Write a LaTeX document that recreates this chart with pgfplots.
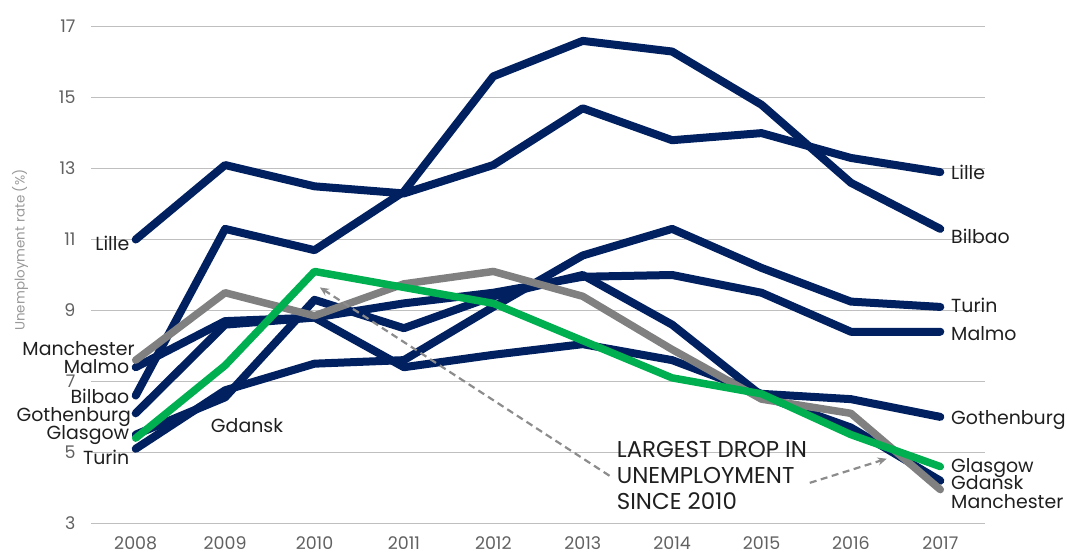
\documentclass[border=0pt]{standalone}
\usepackage{fontspec}
\setmainfont{Poppins}
\usepackage{pgfplots}
\pgfplotsset{compat=1.18}
\usetikzlibrary{arrows.meta}
\definecolor{navy}{HTML}{002060}
\definecolor{grn}{HTML}{00B050}
\definecolor{gry}{HTML}{808080}
\definecolor{arr}{HTML}{8C8C8C}

\pgfplotstableread{
year Lille Bilbao Turin Malmo Gothenburg Gdansk Manchester Glasgow
2008 11.0 6.6  5.1  7.4  6.1  5.5  7.6  5.4
2009 13.1 11.3 6.75 8.7  8.6  6.55 9.5  7.45
2010 12.5 10.7 7.5  8.8  8.8  9.3  8.85 10.1
2011 12.3 12.35 7.6 9.2  7.4  8.5  9.75 9.65
2012 13.1 15.6 9.1  9.5  7.75 9.4  10.1 9.2
2013 14.7 16.6 10.55 9.95 8.05 10.0 9.4 8.15
2014 13.8 16.3 11.3 10.0 7.6  8.6  7.9  7.1
2015 14.0 14.8 10.2 9.5  6.65 6.6  6.5  6.65
2016 13.3 12.6 9.25 8.4  6.5  5.7  6.1  5.5
2017 12.9 11.3 9.1  8.4  6.0  4.2  3.95 4.6
}\datatable

\begin{document}
\begin{tikzpicture}
\useasboundingbox (0,0) rectangle (1070bp,554bp);
\begin{axis}[
  at={(91bp,30.7bp)}, anchor=south west,
  scale only axis, width=894bp, height=496.6bp,
  xmin=2007.5, xmax=2017.5, ymin=3, ymax=17,
  xtick={2008,2009,2010,2011,2012,2013,2014,2015,2016,2017},
  xticklabels={2008,2009,2010,2011,2012,2013,2014,2015,2016,2017},
  ytick={3,5,7,9,11,13,15,17},
  axis line style={draw=none}, major tick length=0pt,
  ymajorgrids, grid style={color=black!25, line width=1.2bp},
  clip=false,
  /pgf/number format/assume math mode=true,
  tick label style={font=\fontsize{17.5}{20}\selectfont, text=black!62},
  xticklabel style={yshift=-10bp},
  yticklabel style={xshift=-12bp},
  ylabel={Unemployment rate (\%)},
  ylabel style={at={(rel axis cs:-0.0794,0.55)}, anchor=center, rotate=0,
    font=\fontsize{13.5}{16}\selectfont, text=black!40},
  every axis plot/.append style={line width=8bp, line cap=round, line join=round},
]
\addplot[navy] table[x=year,y=Lille]{\datatable};
\addplot[navy] table[x=year,y=Bilbao]{\datatable};
\addplot[navy] table[x=year,y=Turin]{\datatable};
\addplot[navy] table[x=year,y=Malmo]{\datatable};
\addplot[navy] table[x=year,y=Gothenburg]{\datatable};
\addplot[navy] table[x=year,y=Gdansk]{\datatable};
\addplot[gry, line width=7.5bp] table[x=year,y=Manchester]{\datatable};
\addplot[grn, line width=7.5bp] table[x=year,y=Glasgow]{\datatable};

\draw[arr, line width=2.2bp, dash pattern=on 7bp off 4.5bp, -{Stealth[length=9bp,width=8bp]}]
  (axis cs:2013.3,4.34) -- (axis cs:2010.06,9.65);
\draw[arr, line width=2.2bp, dash pattern=on 7bp off 4.5bp, -{Stealth[length=9bp,width=8bp]}]
  (axis cs:2015.54,4.14) -- (axis cs:2016.4,4.82);

\node[anchor=north west, align=left, inner sep=0pt, font=\fontsize{23}{26}\selectfont, text=black!88]
  at (axis cs:2013.38,5.32) {LARGEST DROP IN\\UNEMPLOYMENT\\SINCE 2010};

\tikzset{lab/.style={inner sep=0pt, font=\fontsize{19}{22}\selectfont, text=black!88}}
% left labels
\node[lab, anchor=base east] at (axis cs:2007.93,10.69) {Lille};
\node[lab, anchor=base east] at (axis cs:2007.99,7.73) {Manchester};
\node[lab, anchor=base east] at (axis cs:2007.93,7.22) {Malmo};
\node[lab, anchor=base east] at (axis cs:2007.93,6.37) {Bilbao};
\node[lab, anchor=base east] at (axis cs:2007.95,5.86) {Gothenburg};
\node[lab, anchor=base east] at (axis cs:2007.93,5.35) {Glasgow};
\node[lab, anchor=base east] at (axis cs:2007.93,4.65) {Turin};
\node[lab, anchor=base west] at (axis cs:2008.84,5.56) {Gdansk};
% right labels
\node[lab, anchor=base west] at (axis cs:2017.12,12.70) {Lille};
\node[lab, anchor=base west] at (axis cs:2017.12,10.89) {Bilbao};
\node[lab, anchor=base west] at (axis cs:2017.12,8.94) {Turin};
\node[lab, anchor=base west] at (axis cs:2017.12,8.15) {Malmo};
\node[lab, anchor=base west] at (axis cs:2017.12,5.78) {Gothenburg};
\node[lab, anchor=base west] at (axis cs:2017.12,4.42) {Glasgow};
\node[lab, anchor=base west] at (axis cs:2017.12,3.94) {Gdansk};
\node[lab, anchor=base west] at (axis cs:2017.12,3.43) {Manchester};
\end{axis}
\end{tikzpicture}
\end{document}
